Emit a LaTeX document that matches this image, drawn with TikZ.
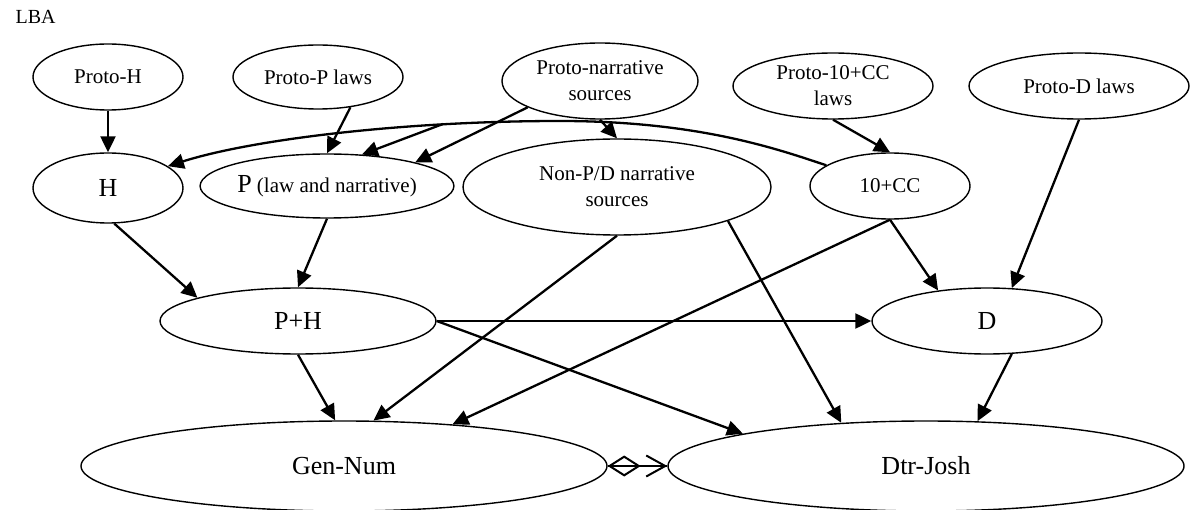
\documentclass[tikz,border=0pt]{standalone}
\usepackage{fontspec}
\setmainfont{Liberation Serif}
\usetikzlibrary{shapes.geometric,arrows.meta}
\begin{document}
\begin{tikzpicture}[x=1pt,y=-1pt,
  ell/.style={ellipse,draw,line width=1.4pt,inner sep=0pt,align=center,
    font=\fontsize{21}{26}\selectfont},
  big/.style={font=\fontsize{26}{30}\selectfont},
  arr/.style={line width=2.3pt,-{Triangle[length=16pt,width=15pt]}},
  link/.style={line width=2pt}]
\useasboundingbox (0,0) rectangle (1190,510);
\node[anchor=base west,font=\fontsize{20}{24}\selectfont] (lba) at (12,24) {LBA};
% top row
\node[ell,minimum width=150pt,minimum height=66pt] (protoH) at (108,77) {Proto-H};
\node[ell,minimum width=170pt,minimum height=64pt] (protoP) at (318,77) {Proto-P laws};
\node[ell,minimum width=196pt,minimum height=76pt] (protoN) at (600,81) {Proto-narrative\\sources};
\node[ell,minimum width=200pt,minimum height=66pt] (proto10) at (833,86) {Proto-10+CC\\laws};
\node[ell,minimum width=220pt,minimum height=66pt] (protoD) at (1079,86) {Proto-D laws};
% second row
\node[ell,big,minimum width=150pt,minimum height=70pt] (H) at (108,188) {H};
\node[ell,minimum width=250pt,minimum height=64pt] (P) at (327,186) {{\fontsize{26}{30}\selectfont P} (law and narrative)};
\node[ell,minimum width=308pt,minimum height=96pt] (nonPD) at (617,187) {Non-P/D narrative\\sources};
\node[ell,minimum width=160pt,minimum height=66pt] (c10) at (890,186) {10+CC};
% third row
\node[ell,big,minimum width=276pt,minimum height=66pt] (PH) at (298,321) {P+H};
\node[ell,big,minimum width=230pt,minimum height=66pt] (D) at (987,321) {D};
% bottom row
\node[ell,big,minimum width=526pt,minimum height=90pt] (gen) at (344,466) {Gen-Num};
\node[ell,big,minimum width=516pt,minimum height=90pt] (dtr) at (926,466) {Dtr-Josh};
% connectors
\draw[arr] (protoH.south) -- (H.north);
\draw[arr] (protoP.-43) -- (P.north);
\draw[arr] (protoN.200) -- (P.15);
\draw[arr] (protoN.south) -- (nonPD.north);
\draw[arr] (c10.162) .. controls (780,150) and (700,121) .. (560,121)
  .. controls (400,121) and (250,140) .. (H.20);
\coordinate (br) at (443,124);
\draw[arr] (br) -- (P.42);
\draw[arr] (proto10.south) -- (c10.north);
\draw[arr] (protoD.south) -- (D.53);
\draw[arr] (H.-80) -- (PH.167);
\draw[arr] (P.south) -- (PH.north);
\draw[arr] (nonPD.south) -- (gen.57);
\draw[arr] (nonPD.-17.6) -- (dtr.153);
\draw[arr] (c10.south) -- (D.148);
\draw[arr] (c10.south) -- (gen.21);
\draw[arr] (PH.east) -- (D.west);
\draw[arr] (PH.east) -- (dtr.170);
\draw[arr] (PH.south) -- (gen.101);
\draw[arr] (D.-53) -- (dtr.41);
\draw[link] (gen.east) -- (dtr.west);
\draw[link,{Diamond[open,length=33pt,width=21pt,line width=2pt]}-{Straight Barb[length=19pt,width=21pt,line width=2pt]}] (gen.east) -- (dtr.west);
\end{tikzpicture}
\end{document}
